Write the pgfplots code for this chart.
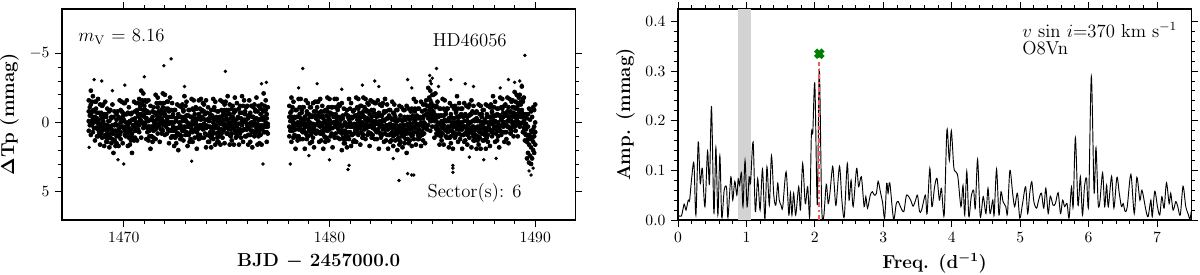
\documentclass[border=0pt]{standalone}
\usepackage{pgfplots}
\usepackage{pgfplotstable}
\pgfplotsset{compat=1.18}

\definecolor{peakred}{RGB}{240,90,90}
\definecolor{markgreen}{RGB}{0,128,0}
\definecolor{bandgray}{RGB}{211,211,211}

% light curve, four samples per time step (mmag)
\pgfplotstableread{
t a b c d
1468.30 -1.6 -0.8 -0.1 0.6
1468.35 -1.1 -0.5 0.2 0.0
1468.40 -2.3 -1.3 -0.6 0.9
1468.45 -1.5 -0.8 -0.1 0.2
1468.50 -1.9 -0.4 -0.3 0.7
1468.55 -0.9 -0.8 0.4 0.0
1468.60 -1.5 -0.4 -0.1 1.3
1468.65 -1.5 -1.0 0.4 0.4
1468.70 -0.7 -0.3 -0.1 1.0
1468.75 -1.7 0.1 0.5 1.0
1468.80 -0.7 -0.2 0.4 0.7
1468.85 -1.3 0.1 0.9 1.6
1468.90 -0.5 -0.7 0.3 0.8
1468.95 -1.2 -0.3 0.6 1.1
1469.00 -1.3 0.0 -0.1 0.3
1469.05 -0.6 -0.4 0.5 1.7
1469.10 -1.5 0.2 0.4 0.9
1469.15 -0.6 -0.4 1.1 1.4
1469.20 -1.0 0.2 0.7 1.4
1469.25 -0.1 0.5 1.1 0.9
1469.30 -0.8 -0.1 0.3 1.8
1469.35 -0.9 0.3 0.8 1.1
1469.40 -0.3 -0.4 0.5 1.5
1469.45 -1.3 0.2 1.2 0.8
1469.50 -0.4 0.6 0.8 2.2
1469.55 -0.8 0.2 1.3 1.3
1469.60 0.1 0.6 0.6 1.7
1469.65 -0.6 -0.2 1.0 1.5
1469.70 -0.8 0.2 0.6 0.9
1469.75 -0.4 0.3 1.0 1.7
1469.80 -1.6 -0.3 0.4 0.9
1469.85 -0.9 0.0 0.7 1.2
1469.90 -1.5 -0.8 -0.1 0.3
1469.95 -0.7 -0.4 0.3 1.5
1470.00 -1.4 -0.2 -0.1 0.4
1470.05 -1.4 -0.6 0.6 0.9
1470.10 -0.6 0.0 0.3 1.0
1470.15 -1.6 -0.6 0.8 0.6
1470.20 -0.7 0.0 0.2 1.7
1470.25 -1.1 0.4 0.8 1.1
1470.30 -0.1 0.0 0.6 1.6
1470.35 -0.6 0.5 1.3 0.9
1470.40 -0.7 -0.2 0.8 2.2
1470.45 -0.2 0.2 1.1 1.1
1470.50 -1.5 0.3 0.2 1.3
1470.55 -0.8 -0.3 0.6 1.1
1470.60 -1.4 0.0 0.2 0.5
1470.65 -0.7 -0.9 0.6 1.3
1470.70 -1.4 -0.5 0.0 0.5
1470.75 -1.7 -0.4 0.2 0.7
1470.80 -1.2 -1.0 -0.6 -0.2
1470.85 -2.3 -0.6 -0.1 1.1
1470.90 -1.6 -1.4 -0.5 0.0
1470.95 -2.1 -0.9 0.1 0.4
1471.00 -1.2 -0.6 -0.4 0.3
1471.05 -1.6 -0.9 0.2 0.0
1471.10 -1.5 -0.3 -0.3 1.2
1471.15 -0.7 -0.8 0.4 0.7
1471.20 -1.6 -0.1 0.3 1.3
1471.25 -0.7 0.3 1.0 0.6
1471.30 -1.2 -0.2 0.5 1.9
1471.35 -0.2 0.3 1.0 1.0
1471.40 -0.8 -0.4 0.3 1.4
1471.45 -1.1 -0.1 0.6 1.1
1471.50 -0.7 0.0 0.1 0.4
1471.55 -2.0 -0.7 0.5 1.2
1471.60 -1.4 -0.5 -0.2 0.3
1471.65 -1.8 -1.1 0.3 0.8
1471.70 -0.8 -0.5 -0.3 0.1
1471.75 -1.4 -0.2 0.2 1.4
1471.80 -1.4 -0.6 0.0 0.5
1471.85 -0.9 -0.3 0.5 0.8
1471.90 -2.1 -1.1 -0.1 0.6
1471.95 -1.4 -0.7 0.2 0.0
1472.00 -2.0 -0.5 -0.6 0.9
1472.05 -1.0 -0.9 0.0 0.3
1472.10 -1.5 -0.4 -0.2 0.8
1472.15 -1.5 -1.0 0.5 0.1
1472.20 -0.8 -0.4 0.1 1.5
1472.25 -1.8 0.0 0.6 0.6
1472.30 -0.9 -0.4 0.0 1.1
1472.35 -1.4 0.0 0.5 1.0
1472.40 -0.4 -0.6 0.3 0.6
1472.45 -0.9 0.0 1.0 1.7
1472.50 -0.9 0.4 0.6 1.1
1472.55 -0.3 -0.1 1.0 1.5
1472.60 -1.3 0.4 0.4 0.8
1472.65 -0.6 -0.4 0.8 2.0
1472.70 -1.2 0.0 0.4 0.9
1472.75 -0.4 0.2 0.9 1.2
1472.80 -1.1 -0.4 0.3 1.0
1472.85 -1.3 -0.1 0.6 0.4
1472.90 -0.8 -0.9 -0.2 1.3
1472.95 -1.9 -0.4 0.3 0.6
1473.00 -1.2 -0.2 -0.1 0.9
1473.05 -1.5 -0.5 0.7 0.3
1473.10 -0.5 0.0 0.3 1.7
1473.15 -0.9 -0.5 0.9 0.9
1473.20 -0.9 0.1 0.3 1.4
1473.25 -0.4 0.3 0.7 1.2
1473.30 -1.7 -0.4 0.2 0.5
1473.35 -1.0 -0.1 0.7 1.4
1473.40 -1.6 -0.9 0.1 0.6
1473.45 -0.6 -0.3 0.6 1.1
1473.50 -1.1 0.1 0.0 0.4
1473.55 -1.0 -0.2 0.7 1.9
1473.60 -0.3 0.3 0.5 1.0
1473.65 -1.6 -0.6 0.9 1.2
1473.70 -1.0 -0.3 0.2 0.9
1473.75 -1.7 -0.2 0.4 0.2
1473.80 -0.9 -0.8 -0.4 1.1
1473.85 -1.4 -0.3 0.2 0.5
1473.90 -1.3 -0.8 0.1 1.1
1473.95 -0.6 -0.2 0.8 0.4
1474.00 -1.6 0.2 0.4 1.8
1474.05 -0.7 -0.2 0.9 0.9
1474.10 -1.1 0.3 0.3 1.4
1474.15 -0.1 -0.3 0.9 1.4
1474.20 -0.6 0.3 0.7 1.0
1474.25 -0.9 0.4 1.1 1.8
1474.30 -0.5 -0.3 0.4 0.9
1474.35 -1.7 0.0 0.7 1.2
1474.40 -1.1 -0.9 -0.2 0.2
1474.45 -1.5 -0.3 0.4 1.6
1474.50 -0.4 0.2 0.3 0.8
1474.55 -0.8 -0.1 1.1 1.4
1474.60 -0.8 0.4 0.7 1.4
1474.65 -0.3 -0.4 1.0 0.8
1474.70 -1.6 -0.1 0.1 1.6
1474.75 -0.9 0.1 0.5 0.8
1474.80 -1.5 -0.5 0.1 1.1
1474.85 -0.7 -0.2 0.6 0.2
1474.90 -1.3 -0.9 0.1 1.5
1474.95 -1.5 -0.5 0.4 0.4
1475.00 -0.9 -0.2 -0.3 0.8
1475.05 -1.9 -0.6 0.3 0.8
1475.10 -0.9 0.0 0.2 0.5
1475.15 -1.3 -0.6 0.9 1.6
1475.20 -0.3 0.0 0.5 1.0
1475.25 -1.0 0.2 0.8 1.3
1475.30 -1.2 -0.4 0.0 0.4
1475.35 -0.7 -0.1 0.4 1.6
1475.40 -1.8 -0.8 0.1 0.6
1475.45 -0.9 -0.2 0.8 1.1
1475.50 -1.4 0.1 0.3 1.0
1475.55 -0.4 -0.3 0.8 0.6
1475.60 -1.0 0.1 0.1 1.6
1475.65 -1.2 -0.7 0.5 0.8
1475.70 -0.7 -0.3 0.1 1.1
1475.75 -1.9 -0.1 0.6 0.2
1475.80 -1.2 -0.7 0.0 1.4
1475.85 -1.6 -0.2 0.5 0.5
1475.90 -0.6 -0.8 -0.1 1.0
1475.95 -1.1 -0.2 0.5 1.0
1476.00 -1.2 0.1 0.2 0.5
1476.05 -0.5 -0.3 0.9 1.6
1476.10 -1.6 0.1 0.4 0.9
1476.15 -0.7 -0.5 0.9 1.4
1476.20 -1.2 0.0 0.2 0.6
1476.25 -0.4 0.2 0.6 1.8
1476.30 -1.1 -0.4 0.2 0.7
1476.35 -1.3 -0.1 0.7 1.0
1476.40 -0.8 -0.9 0.1 0.8
1476.45 -1.8 -0.3 0.6 0.4
1476.50 -0.8 0.2 0.1 1.6
1476.55 -1.2 -0.2 0.7 1.0
1476.60 -0.2 0.3 0.5 1.5
1476.65 -1.0 -0.6 0.9 0.5
1476.70 -1.3 -0.3 0.2 1.6
1476.75 -0.9 -0.2 0.4 0.4
1476.80 -2.1 -0.8 -0.4 0.7
1476.85 -1.2 -0.3 0.2 0.7
1476.90 -1.6 -0.9 0.0 0.3
1476.95 -0.6 -0.3 0.7 1.4
1477.00 -1.1 0.1 0.3 0.8
1478.05 -1.2 -0.4 0.3 1.0
1478.10 -0.7 -0.1 0.6 0.4
1478.15 -1.8 -0.8 -0.1 1.4
1478.20 -1.1 -0.4 0.3 0.6
1478.25 -1.5 0.0 0.1 1.1
1478.30 -0.4 -0.3 0.9 0.5
1478.35 -0.9 0.2 0.5 1.9
1478.40 -0.9 -0.4 1.0 1.0
1478.45 -0.4 0.0 0.2 1.3
1478.50 -1.7 0.1 0.5 1.0
1478.55 -1.1 -0.6 0.0 0.3
1478.60 -1.7 -0.3 0.5 1.2
1478.65 -0.7 -0.9 0.1 0.6
1478.70 -1.1 -0.2 0.7 1.2
1478.75 -1.1 0.2 0.1 0.5
1478.80 -0.4 -0.2 0.7 1.9
1478.85 -1.6 0.1 0.3 0.8
1478.90 -0.8 -0.6 0.9 1.2
1478.95 -1.4 -0.2 0.3 1.0
1479.00 -0.6 0.0 0.6 0.4
1479.05 -1.1 -0.4 0.0 1.5
1479.10 -1.1 0.1 0.6 0.9
1479.15 -0.4 -0.5 0.4 1.4
1479.20 -1.4 0.1 1.1 0.7
1479.25 -0.8 0.2 0.4 1.8
1479.30 -1.5 -0.5 0.6 0.6
1479.35 -0.8 -0.3 -0.3 0.8
1479.40 -1.5 -1.1 0.1 0.6
1479.45 -1.5 -0.5 -0.1 0.2
1479.50 -0.7 0.0 0.7 1.4
1479.55 -1.7 -0.4 0.3 0.8
1479.60 -0.8 0.1 0.8 1.3
1479.65 -1.2 -0.5 0.2 0.6
1479.70 -0.3 0.0 0.7 1.9
1479.75 -0.8 0.4 0.5 1.0
1479.80 -0.9 -0.1 1.1 1.4
1479.85 -0.5 0.1 0.4 1.1
1479.90 -1.8 -0.8 0.6 0.4
1479.95 -1.1 -0.4 -0.2 1.3
1480.00 -1.7 -0.2 0.2 0.5
1480.05 -0.7 -0.6 0.0 1.0
1480.10 -1.1 0.0 0.8 0.4
1480.15 -1.1 -0.6 0.4 1.8
1480.20 -0.4 0.0 0.9 0.9
1480.25 -1.7 0.1 0.0 1.1
1480.30 -1.1 -0.6 0.3 0.8
1480.35 -1.7 -0.3 -0.1 0.2
1480.40 -0.9 -1.1 0.4 1.1
1480.45 -1.3 -0.4 0.1 0.6
1480.50 -1.2 0.1 0.7 1.2
1480.55 -0.4 -0.2 0.2 0.6
1480.60 -1.4 0.3 0.8 2.0
1480.65 -0.5 -0.3 0.6 1.1
1480.70 -1.0 0.2 1.2 1.5
1480.75 0.0 0.6 0.8 1.5
1480.80 -0.6 0.1 1.2 1.0
1480.85 -0.9 0.3 0.3 1.8
1480.90 -0.4 -0.5 0.7 1.0
1480.95 -1.7 -0.2 0.2 1.2
1481.00 -1.0 0.0 0.7 0.3
1481.05 -1.4 -0.4 0.3 1.7
1481.10 -0.3 0.2 0.9 0.9
1481.15 -0.8 -0.4 0.3 1.4
1481.20 -0.9 0.1 0.8 1.3
1481.25 -0.5 0.2 0.3 0.6
1481.30 -1.8 -0.5 0.7 1.4
1481.35 -1.1 -0.2 0.1 0.6
1481.40 -1.7 -1.0 0.4 0.9
1481.45 -0.7 -0.4 -0.2 0.2
1481.50 -1.2 0.0 0.4 1.6
1481.55 -1.2 -0.4 0.2 0.7
1481.60 -0.6 0.0 0.8 1.1
1481.65 -1.8 -0.8 0.2 0.9
1481.70 -1.1 -0.4 0.5 0.3
1481.75 -1.7 -0.2 -0.3 1.2
1481.80 -0.9 -0.8 0.1 0.4
1481.85 -1.4 -0.3 -0.1 0.9
1481.90 -1.3 -0.8 0.7 0.3
1481.95 -0.6 -0.2 0.3 1.7
1482.00 -1.6 0.2 0.8 0.8
1482.05 -0.9 -0.4 0.0 1.1
1482.10 -1.5 -0.1 0.4 0.9
1482.15 -0.7 -0.9 0.0 0.3
1482.20 -1.4 -0.5 0.5 1.2
1482.25 -1.4 -0.1 0.1 0.6
1482.30 -0.6 -0.4 0.7 1.2
1482.35 -1.6 0.1 0.1 0.5
1482.40 -0.7 -0.5 0.7 1.9
1482.45 -1.3 -0.1 0.3 0.8
1482.50 -0.5 0.1 0.8 1.1
1482.55 -1.2 -0.5 0.2 0.9
1482.60 -1.4 -0.2 0.5 0.3
1482.65 -0.7 -0.8 -0.1 1.4
1482.70 -1.7 -0.2 0.5 0.8
1482.75 -0.8 0.2 0.3 1.3
1482.80 -1.3 -0.3 0.9 0.5
1482.85 -0.3 0.2 0.5 1.9
1482.90 -0.9 -0.5 0.9 0.9
1482.95 -0.9 0.1 0.3 1.4
1483.00 -0.3 0.4 0.8 1.3
1483.05 -1.5 -0.2 0.4 0.7
1483.10 -0.7 0.2 1.0 1.7
1483.15 -1.3 -0.6 0.4 0.9
1483.20 -0.4 -0.1 0.8 1.3
1483.25 -0.9 0.3 0.2 0.6
1483.30 -0.9 -0.1 0.8 2.0
1483.35 -0.2 0.4 0.6 1.1
1483.40 -1.2 -0.2 1.3 1.6
1483.45 -0.5 0.2 0.7 1.4
1483.50 -1.1 0.4 1.0 0.8
1483.55 -0.2 -0.1 0.3 1.8
1483.60 -0.9 0.2 0.7 1.0
1483.65 -0.9 -0.4 0.5 1.5
1483.70 -0.2 0.2 1.2 0.8
1483.75 -1.2 0.6 0.8 2.2
1483.80 -0.4 0.1 1.2 1.2
1483.85 -1.0 0.4 0.4 1.5
1483.90 -0.2 -0.4 0.8 1.3
1483.95 -0.8 0.1 0.5 0.8
1484.00 -1.0 0.3 1.0 1.7
1484.05 -0.5 -0.3 0.4 0.9
1484.10 -1.7 0.0 0.7 1.2
1484.15 -1.0 -0.8 -0.1 0.3
1484.20 -1.5 -0.3 0.4 1.6
1484.25 -0.5 0.1 0.2 0.7
1484.30 -1.0 -0.3 0.9 1.2
1484.35 -1.0 0.2 0.5 1.2
1484.40 -0.3 -0.4 1.0 0.8
1484.45 -1.5 0.0 0.2 1.7
1484.50 -0.8 0.2 0.6 0.9
1484.55 -1.3 -0.3 0.3 1.3
1484.60 -0.5 0.0 0.8 0.4
1484.65 -1.3 -0.9 0.1 1.5
1484.70 -1.6 -0.6 0.3 0.3
1484.75 -1.2 -0.5 -0.6 0.5
1484.80 -2.5 -1.2 -0.3 0.2
1484.85 -1.8 -0.9 -0.7 -0.4
1484.90 -2.3 -1.6 -0.1 0.6
1484.95 -1.4 -1.1 -0.6 -0.1
1485.00 -2.0 -0.8 -0.2 0.3
1485.05 -2.0 -1.2 -0.8 -0.4
1485.10 -1.2 -0.6 -0.1 1.1
1485.15 -2.1 -1.1 -0.2 0.3
1485.20 -1.2 -0.5 0.5 0.8
1485.25 -1.5 0.0 0.2 0.9
1485.30 -0.5 -0.4 0.7 0.5
1485.35 -1.0 0.1 0.1 1.6
1485.40 -1.0 -0.5 0.7 1.0
1485.45 -0.5 -0.1 0.3 1.3
1485.50 -1.7 0.1 0.8 0.4
1485.55 -1.0 -0.5 0.2 1.6
1485.60 -1.6 -0.2 0.5 0.5
1485.65 -0.6 -0.8 -0.1 1.0
1485.70 -1.0 -0.1 0.6 1.1
1485.75 -1.0 0.3 0.4 0.7
1485.80 -0.3 -0.1 1.1 1.8
1485.85 -1.4 0.3 0.6 1.1
1485.90 -0.6 -0.4 1.0 1.5
1485.95 -1.2 0.0 0.2 0.6
1486.00 -0.3 0.3 0.7 1.9
1486.05 -1.0 -0.3 0.3 0.8
1486.10 -1.2 0.0 0.8 1.1
1486.15 -0.7 -0.8 0.2 0.9
1486.20 -1.9 -0.4 0.5 0.3
1486.25 -1.0 0.0 -0.1 1.4
1486.30 -1.4 -0.4 0.5 0.8
1486.35 -0.5 0.0 0.2 1.2
1486.40 -1.0 -0.6 0.9 0.5
1486.45 -1.0 0.0 0.5 1.9
1486.50 -0.4 0.3 0.9 0.9
1486.55 -1.4 -0.1 0.3 1.4
1486.60 -0.6 0.3 0.8 1.3
1486.65 -1.2 -0.5 0.4 0.7
1486.70 -0.4 -0.1 0.9 1.6
1486.75 -1.1 0.1 0.3 0.8
1486.80 -1.3 -0.5 0.6 1.1
1486.85 -0.6 0.0 0.0 0.4
1486.90 -1.6 -0.6 0.6 1.8
1486.95 -0.8 -0.1 0.3 0.8
1487.00 -1.2 0.3 1.0 1.3
1487.05 -0.2 -0.1 0.6 1.3
1487.10 -0.7 0.4 1.1 0.9
1487.15 -0.8 -0.3 0.4 1.9
1487.20 -0.1 0.3 1.0 1.3
1487.25 -1.3 0.5 0.6 1.6
1487.30 -0.6 -0.1 1.1 0.7
1487.35 -1.2 0.2 0.5 1.9
1487.40 -0.4 -0.6 0.8 0.8
1487.45 -0.9 0.0 0.2 1.3
1487.50 -0.9 0.4 0.8 1.3
1487.55 -0.2 0.0 0.6 0.9
1487.60 -1.3 0.4 1.2 1.9
1487.65 -0.6 -0.4 0.6 1.1
1487.70 -1.2 0.0 0.9 1.4
1487.75 -0.4 0.2 0.1 0.5
1487.80 -1.1 -0.4 0.5 1.7
1487.85 -1.3 -0.1 0.1 0.6
1487.90 -0.7 -0.8 0.7 1.0
1487.95 -1.9 -0.4 0.1 0.8
1488.00 -1.1 -0.1 0.5 0.3
1488.05 -1.5 -0.5 -0.1 1.4
1488.10 -0.5 0.0 0.5 0.8
1488.15 -1.0 -0.6 0.3 1.3
1488.20 -1.0 0.0 1.0 0.6
1488.25 -0.5 0.2 0.4 1.8
1488.30 -1.8 -0.5 0.6 0.6
1488.35 -1.1 -0.2 -0.2 0.9
1488.40 -1.7 -1.0 0.2 0.7
1488.45 -0.7 -0.4 0.0 0.3
1488.50 -1.2 0.0 0.7 1.4
1488.55 -1.3 -0.5 0.2 0.7
1488.60 -0.6 0.0 0.7 1.2
1488.65 -1.8 -0.8 -0.1 0.3
1488.70 -1.1 -0.4 0.3 1.5
1488.75 -1.7 -0.2 -0.1 0.4
1488.80 -0.8 -0.7 0.5 0.8
1488.85 -1.5 -0.4 -0.1 0.6
1488.90 -1.6 -1.1 0.3 0.1
1488.95 -1.1 -0.7 -0.5 1.0
1489.00 -2.2 -0.4 0.0 0.3
1489.05 -1.5 -1.0 -0.4 0.6
1489.10 -2.0 -0.6 0.2 -0.2
1489.15 -1.2 -1.4 -0.4 1.0
1489.20 -1.8 -0.9 0.0 0.0
1489.25 -2.0 -0.7 -0.8 0.3
1489.30 -1.5 -1.3 -0.4 0.1
1489.35 -2.6 -0.9 -0.7 -0.4
1489.40 -1.7 -1.5 0.0 0.7
1489.45 -1.8 -0.6 -0.1 0.4
1489.50 -0.4 0.2 0.8 1.3
1489.55 -0.6 0.1 0.5 0.9
1489.60 -0.3 0.9 1.4 2.6
1489.65 -0.6 0.3 1.2 2.2
1489.70 -1.0 0.9 1.6 2.9
1489.75 -0.2 1.0 1.2 2.4
1489.80 -0.8 0.6 1.8 3.0
1489.85 -0.4 0.7 1.2 2.6
1489.90 -1.1 0.5 1.4 2.0
1489.95 -0.9 0.3 1.0 2.2
1490.00 -1.3 0.0 0.7 1.6
}\lc

\pgfplotsset{
  panel/.style={
    scale only axis, width=328.5pt, height=135pt,
    tick align=outside,
    major tick length=4.5pt, minor tick length=2.5pt,
    every tick/.style={black, line width=0.6pt},
    axis line style={line width=0.8pt},
    tick label style={font=\fontsize{10}{12}\selectfont},
    label style={font=\fontsize{12}{14}\selectfont\bfseries\boldmath},
  },
  dots/.style={only marks, mark=*, mark size=1.3pt, black},
}

\begin{document}
\begin{tikzpicture}
\useasboundingbox (-39.7pt,-35.2pt) rectangle (728.3pt,140.8pt);

\begin{axis}[panel,
    at={(0pt,0pt)}, anchor=south west,
    xmin=1467, xmax=1491.95,
    ymin=-8.2, ymax=7.05, y dir=reverse,
    xtick={1470,1480,1490}, minor x tick num=9,
    ytick={-5,0,5}, minor y tick num=4,
    /pgf/number format/1000 sep={},
    xlabel={BJD $-$ 2457000.0},
    ylabel={$\Delta$Tp (mmag)},
]
\addplot[dots] table[x=t, y=a] {\lc};
\addplot[dots] table[x=t, y=b] {\lc};
\addplot[dots] table[x=t, y=c] {\lc};
\addplot[dots] table[x=t, y=d] {\lc};
% isolated points away from the band
\addplot[only marks, mark=*, mark size=0.9pt, black] coordinates {
(1468.32,1.8) (1468.56,-3.1) (1468.93,-3.0) (1469.45,-2.3) (1469.72,2.7)
(1470.00,3.0) (1470.05,-2.7) (1471.00,-3.3) (1471.95,-4.1) (1472.30,-4.6)
(1472.95,-2.6) (1473.30,2.8) (1474.94,-3.7) (1476.70,-2.8) (1476.77,3.0)
(1476.93,-2.9) (1478.09,3.0) (1478.50,-2.5) (1478.70,-3.9) (1479.00,2.4)
(1479.40,-2.8) (1480.00,2.7) (1480.60,-2.4) (1480.90,3.4) (1480.95,3.1)
(1481.60,-2.7) (1482.20,-3.0) (1482.40,-2.6) (1483.10,2.6) (1483.38,4.2)
(1483.80,3.7) (1483.80,-3.1) (1484.00,3.8) (1484.00,-2.5) (1484.10,3.8)
(1484.87,-3.4) (1484.90,-3.0) (1484.95,-2.8) (1485.00,-3.2) (1485.20,-3.9)
(1485.30,-2.6) (1485.90,-3.1) (1486.00,3.6) (1486.00,3.1) (1486.00,3.3)
(1486.60,-2.8) (1486.80,2.5) (1487.00,-2.6) (1487.50,2.7) (1488.10,2.6)
(1488.30,-2.5) (1488.70,-3.1) (1489.00,-2.9) (1489.25,-3.0) (1489.35,-2.7)
(1489.50,-4.85) (1489.70,3.5) (1489.80,3.8) (1489.90,3.3)
};
\node[anchor=west, font=\fontsize{12}{14}\selectfont] at (rel axis cs:0.021,0.867) {$m_{\rm V}$ = 8.16};
\node[anchor=east, font=\fontsize{12}{14}\selectfont] at (rel axis cs:0.877,0.853) {HD46056};
\node[anchor=east, font=\fontsize{12}{14}\selectfont] at (rel axis cs:0.906,0.128) {Sector(s): 6};
\end{axis}

\begin{axis}[panel,
    at={(394.2pt,0pt)}, anchor=south west,
    xmin=0, xmax=7.5, ymin=0, ymax=0.425,
    xtick={0,1,...,7}, minor x tick num=4,
    ytick={0,0.1,0.2,0.3,0.4}, minor y tick num=4,
    yticklabel style={/pgf/number format/.cd, fixed, fixed zerofill, precision=1},
    xlabel={Freq. (d$^{-1}$)},
    ylabel={Amp. (mmag)},
]
\addplot[fill=bandgray, draw=none] coordinates {(0.88,0) (0.88,0.425) (1.07,0.425) (1.07,0)} -- cycle;
\addplot[black, line width=0.6pt, smooth, tension=0.5] coordinates {
(0.00,0.010) (0.05,0.008) (0.09,0.032) (0.117,0.020) (0.15,0.040) (0.17,0.040)
(0.20,0.084) (0.233,0.114) (0.262,0.010) (0.296,0.157) (0.325,0.074) (0.355,0.104)
(0.394,0.027) (0.432,0.139) (0.46,0.072) (0.49,0.228) (0.525,0.014) (0.554,0.146)
(0.583,0.010) (0.612,0.130) (0.64,0.005) (0.675,0.060) (0.71,0.065) (0.73,0.005)
(0.773,0.087) (0.80,0.040) (0.83,0.078) (0.86,0.050) (0.88,0.083) (0.90,0.070)
(0.928,0.095) (0.95,0.027) (0.98,0.120) (1.01,0.027) (1.04,0.087) (1.06,0.074)
(1.098,0.157) (1.13,0.017) (1.165,0.083) (1.20,0.020) (1.235,0.102) (1.27,0.002)
(1.30,0.107) (1.335,0.030) (1.366,0.130) (1.40,0.050) (1.43,0.030) (1.458,0.074)
(1.48,0.040) (1.506,0.030) (1.53,0.025) (1.58,0.097) (1.62,0.010) (1.643,0.055)
(1.665,0.010) (1.69,0.054) (1.72,0.010) (1.764,0.067) (1.79,0.020) (1.822,0.114)
(1.86,0.033) (1.895,0.067) (1.925,0.007) (1.949,0.171) (1.97,0.177) (2.00,0.274)
(2.036,0.030) (2.065,0.305) (2.10,0.027) (2.13,0.007) (2.167,0.072) (2.195,0.033)
(2.22,0.054) (2.26,0.108) (2.285,0.067) (2.31,0.030) (2.36,0.108) (2.395,0.040)
(2.43,0.007) (2.474,0.114) (2.50,0.040) (2.53,0.080) (2.56,0.027) (2.61,0.104)
(2.64,0.067) (2.68,0.087) (2.72,0.027) (2.745,0.047) (2.77,0.024) (2.81,0.050)
(2.84,0.057) (2.87,0.050) (2.90,0.054) (2.925,0.078) (2.96,0.055) (2.99,0.035)
(3.02,0.004) (3.05,0.074) (3.07,0.054) (3.095,0.075) (3.15,0.002) (3.19,0.033)
(3.22,0.037) (3.25,0.027) (3.30,0.017) (3.34,0.050) (3.40,0.040) (3.435,0.028)
(3.47,0.039) (3.50,0.050) (3.53,0.017) (3.56,0.020) (3.615,0.050) (3.64,0.013)
(3.68,0.104) (3.71,0.027) (3.75,0.067) (3.785,0.084) (3.82,0.040) (3.85,0.064)
(3.89,0.010) (3.93,0.181) (3.965,0.120) (3.994,0.180) (4.03,0.107) (4.06,0.097)
(4.09,0.087) (4.135,0.027) (4.165,0.070) (4.19,0.010) (4.22,0.098) (4.25,0.007)
(4.285,0.047) (4.32,0.060) (4.345,0.024) (4.378,0.122) (4.417,0.007) (4.46,0.047)
(4.50,0.013) (4.53,0.064) (4.56,0.013) (4.60,0.040) (4.62,0.010) (4.655,0.102)
(4.69,0.010) (4.72,0.057) (4.75,0.037) (4.79,0.027) (4.815,0.013) (4.85,0.100)
(4.89,0.054) (4.92,0.027) (4.96,0.054) (4.995,0.004) (5.035,0.033) (5.08,0.067)
(5.11,0.013) (5.14,0.054) (5.17,0.077) (5.20,0.037) (5.24,0.024) (5.27,0.040)
(5.31,0.054) (5.345,0.024) (5.375,0.064) (5.41,0.013) (5.44,0.048) (5.48,0.030)
(5.515,0.033) (5.555,0.055) (5.59,0.013) (5.62,0.040) (5.65,0.027) (5.685,0.033)
(5.715,0.004) (5.75,0.067) (5.775,0.027) (5.807,0.166) (5.845,0.030) (5.88,0.087)
(5.91,0.010) (5.94,0.067) (5.97,0.084) (6.00,0.030) (6.04,0.289) (6.08,0.057)
(6.108,0.146) (6.14,0.033) (6.165,0.037) (6.205,0.095) (6.235,0.027) (6.263,0.070)
(6.288,0.027) (6.336,0.088) (6.37,0.024) (6.414,0.086) (6.448,0.054) (6.48,0.027)
(6.506,0.033) (6.535,0.017) (6.565,0.027) (6.618,0.092) (6.667,0.013) (6.705,0.086)
(6.75,0.040) (6.78,0.060) (6.837,0.020) (6.87,0.007) (6.91,0.040) (6.93,0.007)
(6.967,0.058) (7.006,0.027) (7.04,0.010) (7.07,0.047) (7.104,0.024) (7.138,0.075)
(7.177,0.033) (7.20,0.054) (7.235,0.020) (7.274,0.037) (7.303,0.027) (7.34,0.010)
(7.38,0.068) (7.42,0.027) (7.46,0.010) (7.48,0.001) (7.50,0.017)
};
\addplot[peakred, line width=1.2pt, dash dot] coordinates {(2.065,0) (2.065,0.33)};
\addplot[only marks, mark=x, mark size=3.4pt, line width=2.8pt, markgreen] coordinates {(2.065,0.335)};
\node[anchor=west, font=\fontsize{12}{14}\selectfont] at (rel axis cs:0.66,0.90) {$v\,\sin\,i$=370 km s$^{-1}$};
\node[anchor=west, font=\fontsize{12}{14}\selectfont] at (rel axis cs:0.66,0.815) {O8Vn};
\end{axis}
\end{tikzpicture}
\end{document}
